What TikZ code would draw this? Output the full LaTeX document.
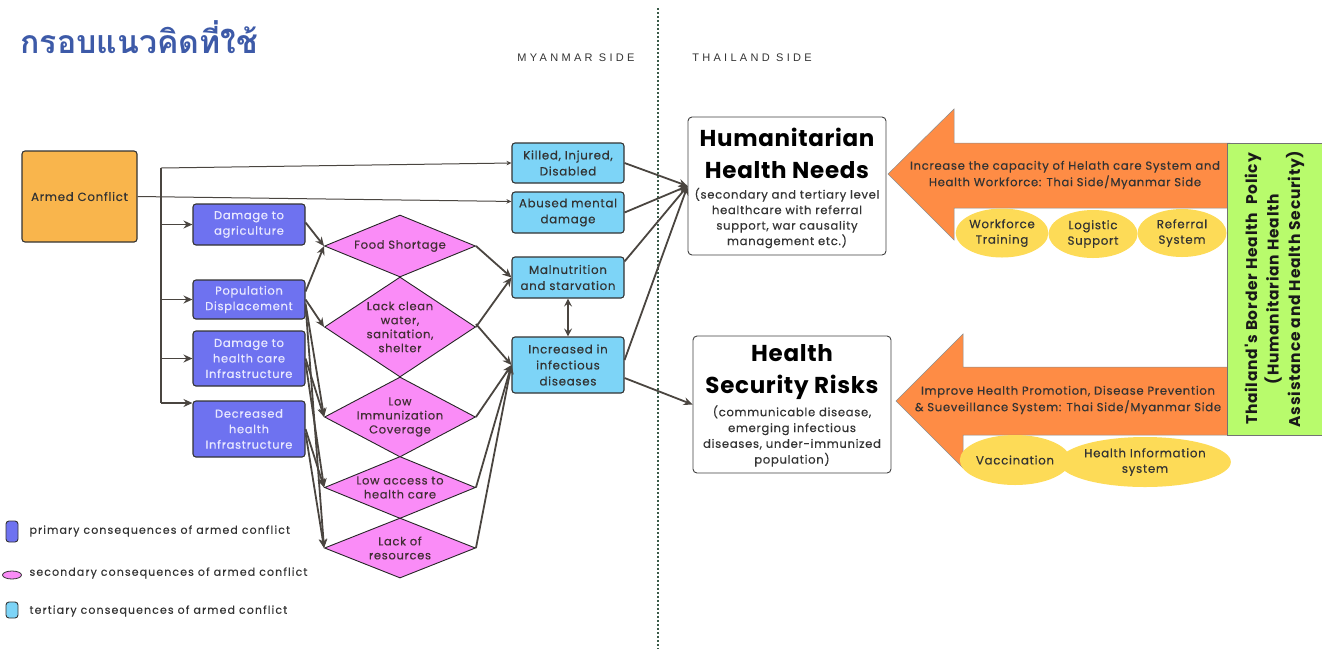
\documentclass[tikz,border=0pt]{standalone}
\usepackage{fontspec}
\usetikzlibrary{shapes.geometric,arrows.meta,calc}
\newfontfamily\thaifont[Script=Thai]{Loma}
\newfontfamily\popf[LetterSpace=6,FakeBold=0.35]{Poppins}
\newfontfamily\popb[LetterSpace=3]{Poppins}
\newfontfamily\popgb[LetterSpace=5]{Poppins}
\newfontfamily\popwide[LetterSpace=10,FakeBold=0.2]{Poppins}
\newfontfamily\capsf[LetterSpace=30]{Liberation Sans}
\definecolor{titleblue}{HTML}{3D5AA8}
\definecolor{acorange}{HTML}{F9B54C}
\definecolor{primc}{HTML}{6E72F0}
\definecolor{primtext}{HTML}{E8E8FF}
\definecolor{secc}{HTML}{FA8CF7}
\definecolor{terc}{HTML}{7DD4F7}
\definecolor{arrorange}{HTML}{FE8C45}
\definecolor{yell}{HTML}{FDDB57}
\definecolor{greenc}{HTML}{B8FB6C}
\definecolor{linec}{HTML}{4A4540}
\definecolor{dotc}{HTML}{3A5A48}
\definecolor{textc}{HTML}{333333}
\begin{document}
\begin{tikzpicture}[x=1pt,y=-1pt,
  boxbase/.style={rounded corners=3pt, line width=1.1pt, align=center, inner sep=1pt},
  prim/.style={boxbase, draw=black!80, fill=primc, text=primtext, minimum width=112pt, font=\popf\fontsize{11.5}{15.5}\selectfont},
  tert/.style={boxbase, draw=black!80, fill=terc, text=textc, minimum width=112pt, font=\popf\fontsize{11.8}{16}\selectfont},
  dia/.style={diamond, draw=black!85, fill=secc, line width=0.9pt, minimum width=151pt, inner sep=0pt},
  dtext/.style={align=center, text=textc!90!purple, font=\popf\fontsize{11.5}{14}\selectfont},
  rbox/.style={draw=black!75, rounded corners=4pt, line width=0.9pt, fill=white, minimum width=198pt},
  yel/.style={ellipse, fill=yell, inner sep=0pt, align=center, text=textc, font=\popf\fontsize{11.8}{15.5}\selectfont},
  conn/.style={draw=linec, line width=1.8pt, -{Stealth[length=9pt,width=8pt,inset=3pt]}},
  thinconn/.style={draw=linec, line width=1pt, -{Stealth[length=5pt,width=4.5pt]}},
  legtext/.style={anchor=west, text=textc, font=\popwide\fontsize{11}{12}\selectfont}
]
\useasboundingbox (0,0) rectangle (1322,649);

% title
\node[anchor=west, text=titleblue, font=\thaifont\bfseries\fontsize{32}{36}\selectfont] (title) at (17,37) {กรอบแนวคิดที่ใช้};

% divider
\coordinate (dtop) at (658,8);
\coordinate (dbot) at (658,649);
\draw[dotc, line width=1.6pt, dash pattern=on 1.6pt off 2.4pt] (dtop) -- (dbot);
\node[text=textc, font=\capsf\fontsize{11}{12}\selectfont] (mside) at (576,58) {MYANMAR SIDE};
\node[text=textc, font=\capsf\fontsize{11}{12}\selectfont] (tside) at (752,58) {THAILAND SIDE};

% armed conflict
\node[boxbase, draw=black!80, fill=acorange, text=textc, minimum width=115pt, minimum height=91pt, font=\popf\fontsize{11.8}{13}\selectfont] (ac) at (79.5,196.5) {Armed Conflict};

% primary
\node[prim, minimum height=41pt] (agri) at (249,224.5) {Damage to\\agriculture};
\node[prim, minimum height=39pt] (pop) at (249,299.5) {Population\\Displacement};
\node[prim, minimum height=55pt] (dhc) at (249,358.5) {Damage to\\health care\\Infrastructure};
\node[prim, minimum height=56pt] (dec) at (249,429) {Decreased\\health\\Infrastructure};

% secondary diamonds
\node[dia, minimum height=62pt] (food) at (400,246) {};
\node[dia, minimum height=100pt] (lack) at (400,327) {};
\node[dia, minimum height=80pt] (lowimm) at (400,417) {};
\node[dia, minimum height=62pt] (lowacc) at (400,487.5) {};
\node[dia, minimum height=60pt] (lackres) at (400,548) {};
\node[dtext] (foodt) at (food) {Food Shortage};
\node[dtext] (lackt) at (lack) {Lack clean\\water,\\sanitation,\\shelter};
\node[dtext] (lowimmt) at (lowimm) {Low\\Immunization\\Coverage};
\node[dtext] (lowacct) at (lowacc) {Low access to\\health care};
\node[dtext] (lackrest) at (lackres) {Lack of\\resources};

% tertiary
\node[tert, minimum height=40pt] (killed) at (568,163) {Killed, Injured,\\Disabled};
\node[tert, minimum height=41pt] (abused) at (568,212.5) {Abused mental\\damage};
\node[tert, minimum height=41pt] (maln) at (568,277.5) {Malnutrition\\and starvation};
\node[tert, minimum height=56pt] (inf) at (568,365) {Increased in\\infectious\\diseases};

% right boxes
\node[rbox, minimum height=138pt] (hhn) at (787,186) {};
\node[align=center, text=black, font=\popb\bfseries\fontsize{23}{32}\selectfont] (hhnt) at (787,153) {Humanitarian\\Health Needs};
\node[align=center, text=textc, font=\popf\fontsize{11.6}{15.5}\selectfont] (hhns) at (787,218) {(secondary and tertiary level\\healthcare with referral\\support, war causality\\management etc.)};
\node[rbox, minimum height=137pt] (hsr) at (792,404.5) {};
\node[align=center, text=black, font=\popb\bfseries\fontsize{23}{32}\selectfont] (hsrt) at (792,372) {Health\\Security Risks};
\node[align=center, text=textc, font=\popf\fontsize{11.6}{15.8}\selectfont] (hsrs) at (792,436) {(communicable disease,\\emerging infectious\\diseases, under-immunized\\population)};

% orange arrows
\draw[fill=arrorange, draw=black!45, line width=0.5pt] (888,174) -- (954,109) -- (954,143) -- (1230,143) -- (1230,208) -- (954,208) -- (954,240) -- cycle;
\node[align=center, text=textc, font=\popf\fontsize{11.6}{16.5}\selectfont] (a1t) at (1065,175) {Increase the capacity of Helath care System and\\Health Workforce: Thai Side/Myanmar Side};
\draw[fill=arrorange, draw=black!45, line width=0.5pt] (896,401) -- (963,334) -- (963,367) -- (1230,367) -- (1230,435) -- (963,435) -- (963,468) -- cycle;
\node[align=center, text=textc, font=\popf\fontsize{11.6}{16.5}\selectfont] (a2t) at (1068,400) {Improve Health Promotion, Disease Prevention\\\& Sueveillance System: Thai Side/Myanmar Side};

% ellipses
\node[yel, minimum width=89pt, minimum height=49pt] (wt) at (1002,233) {Workforce\\Training};
\node[yel, minimum width=89pt, minimum height=48pt] (ls) at (1093,234) {Logistic\\Support};
\node[yel, minimum width=89pt, minimum height=48pt] (rs) at (1182,233) {Referral\\System};
\node[yel, minimum width=99pt, minimum height=50pt] (vac) at (1015,460) {Vaccination};
\node[yel, minimum width=162pt, minimum height=50pt] (his) at (1145,462) {Health Information\\system};

% green policy box
\node[draw=black!55, fill=greenc, line width=0.8pt, minimum width=95pt, minimum height=292pt, inner sep=0pt] (gb) at (1274.5,289) {};
\node[rotate=90, align=center, text=black!90, font=\popgb\bfseries\fontsize{15.5}{21.5}\selectfont] (gbt) at (gb) {Thailand's Border Health\ \ Policy\\(Humanitarian Health\\Assistance and Health Security)};

% connectors: trunk
\coordinate (t0) at (161,168);
\coordinate (t4) at (161,403);
\draw[draw=linec, line width=1.8pt] (t0) -- (t4);
\draw[thinconn] (t0) -- (killed.west);
\draw[thinconn] (ac.east) -- ([yshift=-10pt]abused.north west);
\draw[conn] (t0 |- agri.west) -- (agri.west);
\draw[conn] (t0 |- pop.west) -- (pop.west);
\draw[conn] (t0 |- dhc.west) -- (dhc.west);
\draw[conn] (t4) -- (t4 -| dec.west);

% primary -> secondary
\draw[conn] ([yshift=2pt]agri.east) -- (food.west);
\draw[conn] ([yshift=8pt]pop.east) -- (food.west);
\draw[conn] (pop.east) -- (lack.west);
\draw[conn] ([yshift=-4pt]pop.east) -- (lowimm.west);
\draw[conn] ([yshift=-6pt]pop.east) -- (lackres.west);
\draw[conn] (dhc.east) -- (lowimm.west);
\draw[conn] ([yshift=-4pt]dhc.east) -- (lowacc.west);
\draw[conn] (dec.east) -- (lowacc.west);
\draw[conn] ([yshift=-4pt]dec.east) -- (lackres.west);

% secondary -> tertiary
\draw[conn] (food.east) -- (maln.west);
\draw[conn] (lack.east) -- (maln.west);
\draw[conn] ([yshift=3pt]lack.east) -- (inf.west);
\draw[conn] (lowimm.east) -- (inf.west);
\draw[conn] (lowacc.east) -- (inf.west);
\draw[conn] (lackres.east) -- (inf.west);
\draw[draw=linec, line width=1.8pt, {Stealth[length=8pt,width=8pt,inset=3pt]}-{Stealth[length=8pt,width=8pt,inset=3pt]}] (maln.south) -- (inf.north);

% tertiary -> outcome boxes
\draw[conn] (killed.east) -- (hhn.west);
\draw[conn] (abused.east) -- (hhn.west);
\draw[conn] ([yshift=-5pt]maln.north east) -- (hhn.west);
\draw[conn] ([yshift=5pt]inf.east) -- (hhn.west);
\draw[conn] ([yshift=-13pt]inf.east) -- (hsr.west);

% legend
\node[draw=black!80, fill=primc, rounded corners=3pt, line width=0.9pt, minimum width=12pt, minimum height=21pt, inner sep=0pt] (lg1) at (12,531.5) {};
\node[legtext] (lg1t) at (26,531) {primary consequences of armed conflict};
\node[ellipse, draw=black!80, fill=secc, line width=0.8pt, minimum width=19pt, minimum height=8pt, inner sep=0pt] (lg2) at (12,575) {};
\node[legtext] (lg2t) at (26,573) {secondary consequences of armed conflict};
\node[draw=black!80, fill=terc, rounded corners=3pt, line width=0.9pt, minimum width=12pt, minimum height=16pt, inner sep=0pt] (lg3) at (12,610) {};
\node[legtext] (lg3t) at (26,611) {tertiary consequences of armed conflict};
\end{tikzpicture}
\end{document}
